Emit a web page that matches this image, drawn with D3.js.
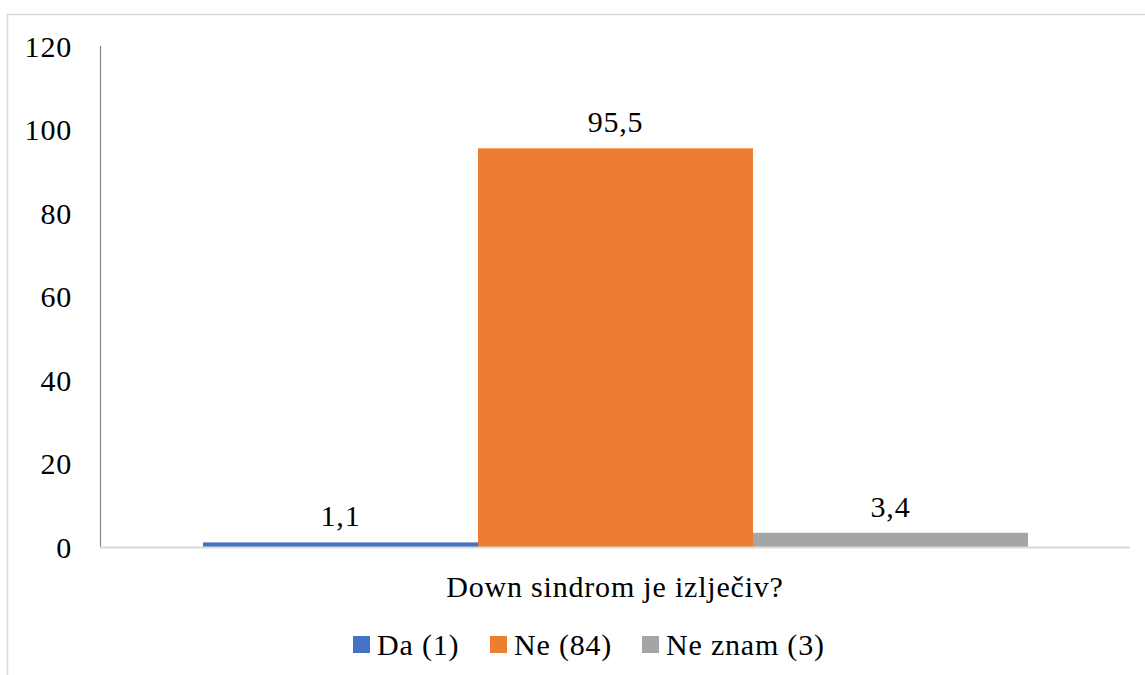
<!DOCTYPE html>
<html>
<head>
<meta charset="utf-8">
<script src="https://cdn.jsdelivr.net/npm/d3@7"></script>
<style>
  body { margin: 0; background: #fff; }
</style>
</head>
<body>
<svg id="chart" width="1145" height="675"></svg>
<script>
// data
var category = 'Down sindrom je izlječiv?';
var seriesNames = ['Da (1)', 'Ne (84)', 'Ne znam (3)'];
var seriesValues = [1.1, 95.5, 3.4];
var valueLabels = ['1,1', '95,5', '3,4'];
var seriesColors = ['#4472C4', '#ED7D31', '#A5A5A5'];
var yTicks = [0, 20, 40, 60, 80, 100, 120];

var svg = d3.select('#chart');
var margin = {top: 46, left: 100, right: 15, bottom: 128};
var width = 1145, height = 675;
var fontSize = 30;
var fontFamily = "'Liberation Serif', Tinos, 'Times New Roman', 'DejaVu Serif', serif";

function styleText(sel) {
    sel.style('font-family', fontFamily)
        .style('font-size', fontSize + 'px')
        .style('letter-spacing', '0.8px')
        .attr('fill', '#000');
}

// outer chart frame (right and bottom are cut off in the picture)
svg.append('rect')
    .attr('x', 7.5).attr('y', 14.5)
    .attr('width', 1160).attr('height', 700)
    .attr('fill', 'none').attr('stroke', '#d9d9d9').attr('stroke-width', 1.5);

var x0 = d3.scaleBand()
    .domain([category])
    .range([margin.left, width - margin.right])
    .paddingInner(0).paddingOuter(0.1);

// bars sit inside the category band with a gap at both ends
var x1 = d3.scaleBand()
    .domain(seriesNames)
    .range([margin.left + 103, width - margin.right - 102])
    .padding(0);

var y = d3.scaleLinear()
    .domain([0, 120])
    .range([height - margin.bottom, margin.top]);

// y axis labels
svg.append('g').selectAll('text')
    .data(yTicks)
    .enter().append('text')
    .attr('x', 72)
    .attr('y', function(d){ return y(d); })
    .attr('dy', '0.35em')
    .attr('text-anchor', 'end')
    .call(styleText)
    .text(function(d){ return d; });

// y axis line
svg.append('line')
    .attr('x1', margin.left + 0.5).attr('x2', margin.left + 0.5)
    .attr('y1', y(120)).attr('y2', y(0))
    .attr('stroke', '#868686').attr('stroke-width', 1.2);

// bars
svg.append('g').selectAll('rect')
    .data(seriesValues)
    .enter().append('rect')
    .attr('x', function(d, i){ return x1(seriesNames[i]); })
    .attr('width', x1.bandwidth())
    .attr('y', function(d){ return y(d); })
    .attr('height', function(d){ return y(0) - y(d); })
    .attr('fill', function(d, i){ return seriesColors[i]; });

// baseline
svg.append('line')
    .attr('x1', margin.left).attr('x2', width - margin.right)
    .attr('y1', y(0) + 0.5).attr('y2', y(0) + 0.5)
    .attr('stroke', '#d9d9d9').attr('stroke-width', 2);

// value labels
svg.append('g').selectAll('text')
    .data(seriesValues)
    .enter().append('text')
    .attr('x', function(d, i){ return x1(seriesNames[i]) + x1.bandwidth() / 2; })
    .attr('y', function(d){ return y(d) - 16; })
    .attr('text-anchor', 'middle')
    .call(styleText)
    .text(function(d, i){ return valueLabels[i]; });

// category label
svg.append('text')
    .attr('x', x0(category) + x0.bandwidth() / 2)
    .attr('y', 597)
    .attr('text-anchor', 'middle')
    .call(styleText)
    .text(category);

// legend
var legendX = [353, 490, 642];
var legend = svg.append('g').selectAll('g')
    .data(seriesNames)
    .enter().append('g')
    .attr('transform', function(d, i){ return 'translate(' + legendX[i] + ',636)'; });
legend.append('rect')
    .attr('width', 17).attr('height', 17)
    .attr('fill', function(d, i){ return seriesColors[i]; });
legend.append('text')
    .attr('x', 24).attr('y', 19)
    .call(styleText)
    .text(function(d){ return d; });
</script>
</body>
</html>
